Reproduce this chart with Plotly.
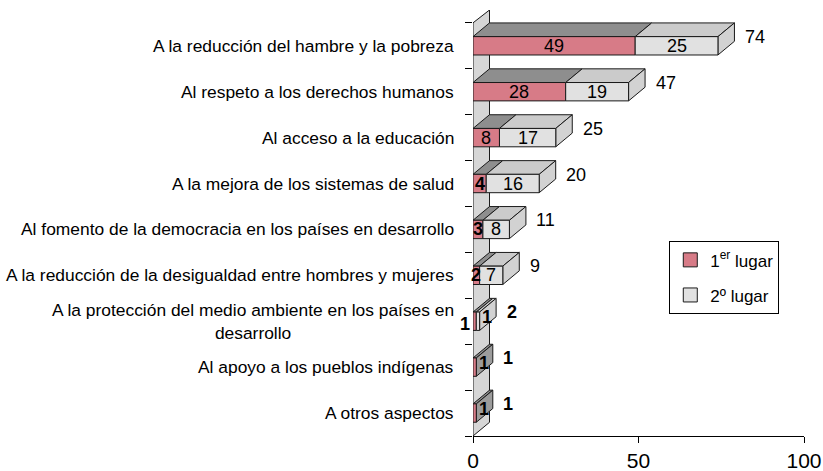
import plotly.graph_objects as go

# Survey answers: share of first and second choices per priority
categorias = [
    "A la reducción del hambre y la pobreza",
    "Al respeto a los derechos humanos",
    "Al acceso a la educación",
    "A la mejora de los sistemas de salud",
    "Al fomento de la democracia en los países en desarrollo",
    "A la reducción de la desigualdad entre hombres y mujeres",
    "A la protección del medio ambiente en los países en<br>desarrollo",
    "Al apoyo a los pueblos indígenas",
    "A otros aspectos",
]
primer_lugar = [49, 28, 8, 4, 3, 2, 1, 1, 1]
segundo_lugar = [25, 19, 17, 16, 8, 7, 1, 0, 0]
totales = [74, 47, 25, 20, 11, 9, 2, 1, 1]
nombres_series = ["1<sup>er</sup> lugar", "2º lugar"]
x_ticks = [0, 50, 100]

FONT = "Arial, 'Liberation Sans', sans-serif"
W, H = 823, 471
ML, MR, MT, MB = 473, 19, 10, 35
X_MAX = 100
Y_TOP, Y_BOT = -0.78, 8.5
px_x = (W - ML - MR) / X_MAX
px_y = (H - MT - MB) / (Y_BOT - Y_TOP)
DX = 16.5 / px_x        # depth of the pseudo-3D boxes, in x units
DY = 13.7 / px_y        # depth of the pseudo-3D boxes, in category units
HALF = 0.2              # half height of a bar front

EDGE = "#1a1a1a"
COL_FRONT = ["#d77b87", "#e1e1e1"]
COL_TOP = ["#8e8e8e", "#cbcbcb"]
COL_SIDE = ["#9c9c9c", "#d2d2d2"]
COL_WALL = "#d6d6d6"


def front(x0, x1, k):
    return [(x0, k - HALF), (x1, k - HALF), (x1, k + HALF), (x0, k + HALF)]


def top(x0, x1, k):
    return [(x0, k - HALF), (x1, k - HALF), (x1 + DX, k - HALF - DY), (x0 + DX, k - HALF - DY)]


def side(x1, k):
    return [(x1, k - HALF), (x1 + DX, k - HALF - DY), (x1 + DX, k + HALF - DY), (x1, k + HALF)]


def poly_trace(polys, fill):
    xs, ys = [], []
    for p in polys:
        for (a, b) in p + [p[0]]:
            xs.append(a)
            ys.append(b)
        xs.append(None)
        ys.append(None)
    return go.Scatter(x=xs, y=ys, mode="lines", fill="toself", fillcolor=fill,
                      line=dict(color=EDGE, width=1), hoverinfo="skip", showlegend=False)


fig = go.Figure()

# back wall standing at x = 0
wall = [(0, Y_BOT), (0, -0.5), (DX, Y_TOP), (DX, Y_BOT - DY)]
fig.add_trace(poly_trace([wall], COL_WALL))

series = [primer_lugar, segundo_lugar]
tops = [[], []]
sides = [[], []]
fronts = [[], []]
annotations = []

for k, cat in enumerate(categorias):
    start = 0
    last = max(i for i, s in enumerate(series) if s[k] > 0)
    for i, s in enumerate(series):
        v = s[k]
        if v <= 0:
            continue
        x0, x1 = start, start + v
        fronts[i].append(front(x0, x1, k))
        tops[i].append(top(x0, x1, k))
        if i == last:
            sides[i].append(side(x1, k))
        width_px = v * px_x
        small = width_px < 20
        xshift, yshift = 0, 0
        if width_px < 6:
            if i == last:
                xshift, yshift = 9, 4
            else:
                xshift, yshift = -10, -3
        annotations.append(dict(
            x=(x0 + x1) / 2, y=k, xref="x", yref="y", showarrow=False,
            text=f"<b>{v}</b>" if small else str(v),
            xshift=xshift, yshift=yshift,
            font=dict(size=18, color="black", family=FONT)))
        start = x1
    t = totales[k]
    annotations.append(dict(
        x=t, y=k, xref="x", yref="y", showarrow=False, xanchor="left",
        xshift=25, yshift=9,
        text=f"<b>{t}</b>" if t * px_x < 10 else str(t),
        font=dict(size=18, color="black", family=FONT)))
    # category label
    annotations.append(dict(
        x=-17 / (W - ML - MR), y=k, xref="paper", yref="y", showarrow=False,
        xanchor="right", align="center", text=cat,
        font=dict(size=17.4, color="black", family=FONT)))

for i in range(2):
    fig.add_trace(poly_trace(tops[i], COL_TOP[i]))
for i in range(2):
    fig.add_trace(poly_trace(sides[i], COL_SIDE[i]))
for i in range(2):
    fig.add_trace(poly_trace(fronts[i], COL_FRONT[i]))

# legend entries
for i in range(2):
    fig.add_trace(go.Scatter(
        x=[None], y=[None], mode="markers", name=nombres_series[i],
        legendgroup=f"g{i}",
        marker=dict(symbol="square", size=14, color=COL_FRONT[i],
                    line=dict(color=EDGE, width=1))))

fig.update_layout(
    width=W, height=H,
    margin=dict(l=ML, r=MR, t=MT, b=MB, autoexpand=False),
    paper_bgcolor="white", plot_bgcolor="white",
    font=dict(family=FONT, color="black"),
    annotations=annotations,
    showlegend=True,
    legend=dict(x=0.593, y=0.457, xanchor="left", yanchor="top",
                bordercolor="black", borderwidth=1, bgcolor="white",
                font=dict(size=17, family=FONT), tracegroupgap=10,
                itemwidth=30),
    xaxis=dict(range=[0, X_MAX], tickvals=x_ticks, ticks="outside", ticklen=6,
               tickcolor="black", showline=True, linecolor="black", linewidth=1,
               showgrid=False, zeroline=False, tickfont=dict(size=21, family=FONT),
               fixedrange=True, automargin=False),
    yaxis=dict(range=[Y_BOT, Y_TOP], tickvals=[j - 0.5 for j in range(10)],
               ticks="outside", ticklen=7, tickcolor="black", showticklabels=False,
               showline=False, showgrid=False, zeroline=False, fixedrange=True,
               automargin=False),
)

fig.write_html("out.html")
